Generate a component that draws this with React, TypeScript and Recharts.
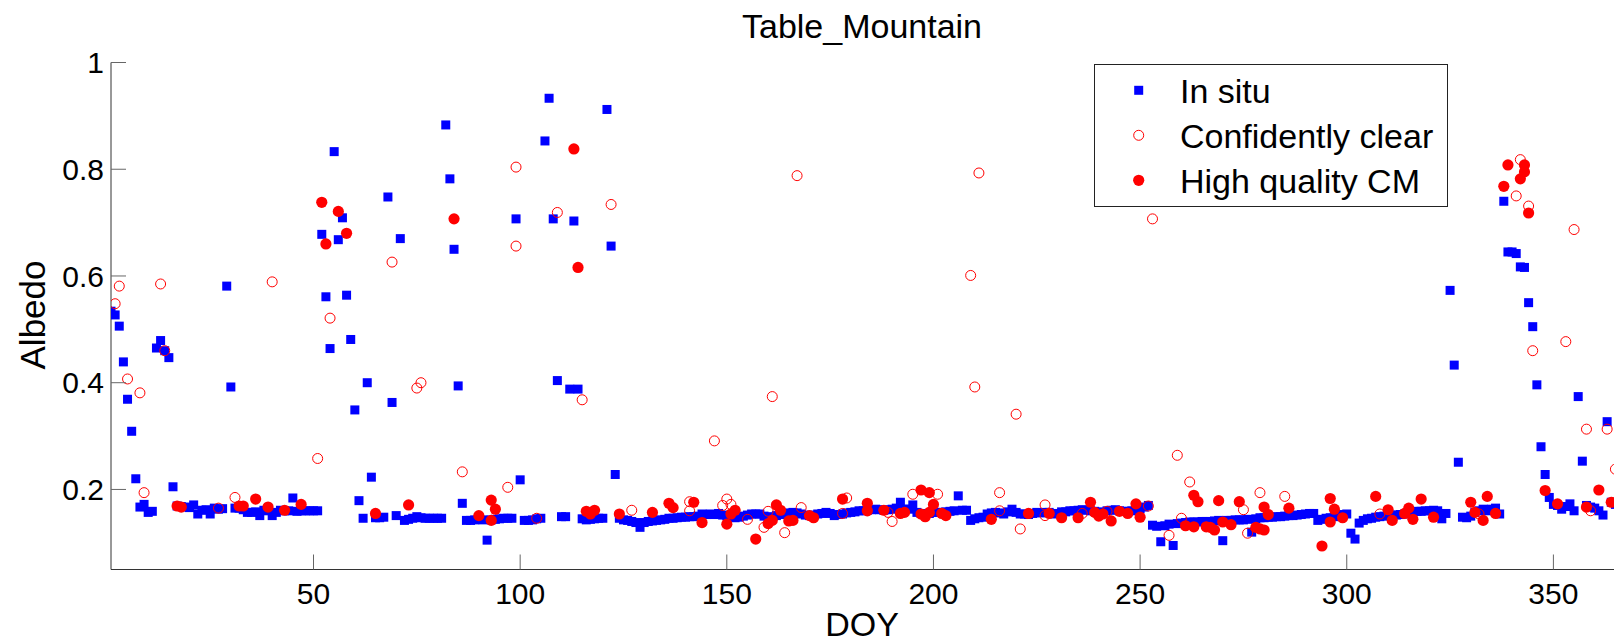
import { ScatterChart, Scatter, XAxis, YAxis } from 'recharts';

const FONT = '"Liberation Sans", Arial, Helvetica, sans-serif';

// in situ albedo, one value per DOY (1..365)
const inSituAlbedo: (number | null)[] = [
  0.534, 0.527, 0.506, 0.439, 0.369, 0.309, 0.22, 0.167, 0.172, 0.157,
  0.159, 0.465, 0.479, 0.46, 0.447, 0.205, 0.169, 0.168, 0.167, 0.166,
  0.171, 0.154, 0.161, 0.162, 0.154, 0.165, 0.163, 0.164, 0.581, 0.392,
  0.165, 0.165, 0.162, 0.157, 0.157, 0.158, 0.151, 0.161, 0.16, 0.151,
  0.157, 0.161, 0.16, 0.16, 0.184, 0.159, 0.16, 0.16, 0.16, 0.16,
  0.16, 0.678, 0.561, 0.464, 0.833, 0.668, 0.709, 0.564, 0.481, 0.349,
  0.179, 0.146, 0.4, 0.223, 0.147, 0.147, 0.148, 0.748, 0.363, 0.151,
  0.67, 0.142, 0.144, 0.146, 0.149, 0.147, 0.146, 0.146, 0.146, 0.146,
  0.146, 0.883, 0.782, 0.65, 0.394, 0.174, 0.142, 0.142, 0.143, 0.144,
  0.143, 0.105, 0.143, 0.144, 0.145, 0.146, 0.146, 0.146, 0.707, 0.218,
  0.142, 0.142, 0.143, 0.145, 0.146, 0.853, 0.933, 0.707, 0.404, 0.149,
  0.149, 0.388, 0.703, 0.388, 0.145, 0.143, 0.144, 0.145, 0.146, 0.146,
  0.912, 0.656, 0.228, 0.146, 0.143, 0.142, 0.14, 0.138, 0.129, 0.138,
  0.14, 0.141, 0.142, 0.143, 0.144, 0.146, 0.146, 0.147, 0.148, 0.148,
  0.149, 0.149, 0.15, 0.154, 0.153, 0.154, 0.153, 0.155, 0.152, 0.151,
  0.149, 0.147, 0.148, 0.15, 0.152, 0.154, 0.154, 0.154, 0.15, 0.147,
  0.149, 0.151, 0.153, 0.154, 0.156, 0.157, 0.156, 0.154, 0.152, 0.151,
  0.152, 0.154, 0.155, 0.157, 0.155, 0.151, 0.153, 0.154, 0.156, 0.157,
  0.158, 0.16, 0.16, 0.161, 0.162, 0.163, 0.162, 0.161, 0.162, 0.163,
  0.165, 0.176, 0.163, 0.163, 0.171, 0.157, 0.155, 0.154, 0.155, 0.157,
  0.157, 0.157, 0.158, 0.159, 0.16, 0.188, 0.161, 0.161, 0.142, 0.145,
  0.147, 0.148, 0.154, 0.156, 0.157, 0.156, 0.154, 0.158, 0.163, 0.157,
  0.154, 0.154, 0.153, 0.155, 0.157, 0.156, 0.157, 0.157, 0.154, 0.155,
  0.158, 0.158, 0.16, 0.16, 0.161, 0.162, 0.161, 0.16, 0.159, 0.156,
  0.158, 0.16, 0.161, 0.162, 0.16, 0.159, 0.159, 0.16, 0.162, 0.164,
  0.167, 0.17, 0.133, 0.131, 0.102, 0.132, 0.135, 0.095, 0.136, 0.137,
  0.138, 0.139, 0.139, 0.139, 0.14, 0.14, 0.14, 0.141, 0.142, 0.104,
  0.142, 0.142, 0.143, 0.143, 0.143, 0.144, 0.12, 0.145, 0.147, 0.147,
  0.148, 0.148, 0.149, 0.149, 0.15, 0.151, 0.151, 0.152, 0.153, 0.154,
  0.155, 0.155, 0.142, 0.144, 0.146, 0.147, 0.149, 0.151, 0.153, 0.154,
  0.118, 0.107, 0.137, 0.142, 0.145, 0.146, 0.148, 0.149, 0.15, 0.151,
  0.152, 0.152, 0.153, 0.154, 0.156, 0.158, 0.159, 0.159, 0.16, 0.16,
  0.161, 0.16, 0.145, 0.155, 0.573, 0.433, 0.251, 0.148, 0.147, 0.15,
  0.157, 0.16, 0.163, 0.16, 0.163, 0.165, 0.154, 0.74, 0.645, 0.645,
  0.642, 0.617, 0.616, 0.55, 0.505, 0.396, 0.28, 0.228, 0.185, 0.172,
  0.17, 0.163, 0.168, 0.173, 0.16, 0.374, 0.253, 0.17, 0.167, 0.165,
  0.16, 0.152, 0.327, 0.176, 0.172,
];

// confidently clear retrievals
const clearDoy = [
  2, 3, 5, 8, 9, 13, 14, 27, 31, 40, 51, 54, 69, 75, 76, 86, 97, 99, 99, 104,
  109, 115, 122, 127, 141, 141, 147, 149, 150, 151, 155, 159, 160, 161, 164, 167, 168, 178, 179, 189,
  190, 195, 201, 209, 210, 211, 216, 216, 220, 221, 227, 227, 236, 242, 252, 253, 257, 259, 260, 262,
  275, 276, 279, 285, 308, 332, 341, 342, 344, 345, 353, 355, 358, 359, 363, 365,
];
const clearAlbedo = [
  0.548, 0.581, 0.407, 0.381, 0.194, 0.585, 0.46, 0.165, 0.185, 0.589, 0.258, 0.521, 0.626, 0.39, 0.4, 0.233, 0.204, 0.804, 0.656, 0.146,
  0.719, 0.368, 0.734, 0.161, 0.177, 0.16, 0.291, 0.17, 0.182, 0.172, 0.144, 0.129, 0.159, 0.374, 0.119, 0.788, 0.166, 0.155, 0.184, 0.157,
  0.14, 0.191, 0.191, 0.601, 0.392, 0.793, 0.194, 0.16, 0.341, 0.126, 0.171, 0.151, 0.155, 0.159, 0.169, 0.707, 0.114, 0.264, 0.146, 0.214,
  0.162, 0.118, 0.194, 0.187, 0.154, 0.154, 0.75, 0.818, 0.731, 0.46, 0.477, 0.687, 0.313, 0.16, 0.313, 0.238,
];

// high quality cloud mask retrievals
const cmDoy = [
  17, 18, 32, 33, 36, 39, 43, 47, 52, 53, 56, 58, 65, 73, 84, 90, 93, 93, 94, 113,
  114, 116, 117, 118, 124, 132, 136, 137, 142, 144, 150, 151, 152, 157, 160, 161, 162, 163, 165, 166,
  170, 171, 178, 184, 184, 188, 192, 193, 197, 197, 198, 199, 199, 200, 202, 203, 214, 223, 228, 231,
  235, 238, 239, 240, 241, 243, 245, 247, 249, 250, 261, 263, 263, 264, 266, 267, 268, 269, 270, 272,
  274, 278, 279, 280, 280, 281, 286, 294, 296, 296, 297, 299, 307, 310, 311, 314, 315, 316, 318, 321,
  330, 331, 333, 334, 336, 338, 339, 342, 343, 343, 344, 348, 351, 358, 361, 364,
];
const cmAlbedo = [
  0.169, 0.167, 0.169, 0.169, 0.182, 0.167, 0.161, 0.172, 0.738, 0.66, 0.721, 0.68, 0.155, 0.171, 0.707, 0.151, 0.18, 0.142, 0.163, 0.838,
  0.616, 0.159, 0.154, 0.161, 0.154, 0.157, 0.174, 0.166, 0.176, 0.138, 0.135, 0.154, 0.161, 0.107, 0.136, 0.142, 0.171, 0.161, 0.141, 0.142,
  0.151, 0.147, 0.182, 0.174, 0.16, 0.161, 0.155, 0.157, 0.199, 0.154, 0.149, 0.194, 0.157, 0.172, 0.155, 0.151, 0.144, 0.155, 0.155, 0.147,
  0.147, 0.176, 0.157, 0.15, 0.154, 0.141, 0.159, 0.155, 0.173, 0.148, 0.132, 0.13, 0.189, 0.177, 0.13, 0.129, 0.124, 0.179, 0.139, 0.134,
  0.177, 0.129, 0.126, 0.124, 0.167, 0.153, 0.165, 0.094, 0.183, 0.139, 0.163, 0.147, 0.187, 0.162, 0.142, 0.155, 0.165, 0.144, 0.182, 0.148,
  0.176, 0.157, 0.142, 0.187, 0.155, 0.768, 0.808, 0.782, 0.808, 0.795, 0.718, 0.198, 0.173, 0.167, 0.199, 0.176,
];

const doyTicks = [50, 100, 150, 200, 250, 300, 350];
const albedoTicks = [0.2, 0.4, 0.6, 0.8, 1];

const inSitu = inSituAlbedo
  .map((albedo, i) => ({ doy: i + 1, albedo }))
  .filter((p) => p.albedo !== null);
const clear = clearDoy.map((doy, i) => ({ doy, albedo: clearAlbedo[i] }));
const highQuality = cmDoy.map((doy, i) => ({ doy, albedo: cmAlbedo[i] }));

const BLUE = '#0000ff';
const RED = '#ff0000';
const AXIS = '#333';
const TICK = '#666';

const Square = ({ cx, cy }: any) => <rect x={cx - 4.5} y={cy - 4.5} width={9} height={9} fill={BLUE} />;
const OpenCircle = ({ cx, cy }: any) => (
  <circle cx={cx} cy={cy} r={5} fill="none" stroke={RED} strokeWidth={1} />
);
const Dot = ({ cx, cy }: any) => <circle cx={cx} cy={cy} r={5.6} fill={RED} />;

// MATLAB style: ticks point inward
const BottomTick = ({ x, y, payload }: any) => (
  <g>
    <line x1={x} x2={x} y1={y} y2={y - 15} stroke={TICK} />
    <text x={x} y={y + 34} textAnchor="middle" fontSize={30} fontFamily={FONT} fill="#000">
      {payload.value}
    </text>
  </g>
);
const TopTick = ({ x, y }: any) => <line x1={x} x2={x} y1={y} y2={y + 15} stroke={TICK} />;
const LeftTick = ({ x, y, payload }: any) => (
  <g>
    <line x1={x} x2={x + 15} y1={y} y2={y} stroke={TICK} />
    <text x={x - 7} y={y + 10.7} textAnchor="end" fontSize={30} fontFamily={FONT} fill="#000">
      {payload.value}
    </text>
  </g>
);
const RightTick = ({ x, y }: any) => <line x1={x} x2={x - 15} y1={y} y2={y} stroke={TICK} />;

const legendItems = [
  { label: 'In situ', marker: 'square' },
  { label: 'Confidently clear', marker: 'open' },
  { label: 'High quality CM', marker: 'dot' },
];

export default function App() {
  return (
    <div
      style={{
        position: 'absolute',
        left: 0,
        top: 0,
        width: 1614,
        height: 644,
        overflow: 'hidden',
        background: '#fff',
      }}
    >
      <ScatterChart width={1630} height={644} margin={{ top: 62.5, right: 14.6, bottom: 0, left: 0 }}>
        <XAxis
          xAxisId="bottom"
          dataKey="doy"
          type="number"
          domain={[1, 365]}
          ticks={doyTicks}
          allowDataOverflow
          height={74.5}
          stroke={AXIS}
          tickLine={false}
          tickSize={0}
          tickMargin={0}
          tick={<BottomTick />}
        />
        <XAxis
          xAxisId="top"
          orientation="top"
          dataKey="doy"
          type="number"
          domain={[1, 365]}
          ticks={doyTicks}
          allowDataOverflow
          height={0}
          stroke={AXIS}
          tickLine={false}
          tickSize={0}
          tickMargin={0}
          tick={<TopTick />}
        />
        <YAxis
          yAxisId="left"
          dataKey="albedo"
          type="number"
          domain={[0.05, 1]}
          ticks={albedoTicks}
          allowDataOverflow
          width={111}
          stroke={AXIS}
          tickLine={false}
          tickSize={0}
          tickMargin={0}
          tick={<LeftTick />}
        />
        <YAxis
          yAxisId="right"
          orientation="right"
          dataKey="albedo"
          type="number"
          domain={[0.05, 1]}
          ticks={albedoTicks}
          allowDataOverflow
          width={0}
          stroke={AXIS}
          tickLine={false}
          tickSize={0}
          tickMargin={0}
          tick={<RightTick />}
        />
        <Scatter
          name="In situ"
          data={inSitu}
          xAxisId="bottom"
          yAxisId="left"
          shape={<Square />}
          isAnimationActive={false}
        />
        <Scatter
          name="Confidently clear"
          data={clear}
          xAxisId="bottom"
          yAxisId="left"
          shape={<OpenCircle />}
          isAnimationActive={false}
        />
        <Scatter
          name="High quality CM"
          data={highQuality}
          xAxisId="bottom"
          yAxisId="left"
          shape={<Dot />}
          isAnimationActive={false}
        />
      </ScatterChart>

      <svg
        width={1614}
        height={644}
        style={{ position: 'absolute', left: 0, top: 0, pointerEvents: 'none' }}
        fontFamily={FONT}
      >
        <text x={862} y={38} textAnchor="middle" fontSize={34} fill="#000">
          Table_Mountain
        </text>
        <text x={862} y={636} textAnchor="middle" fontSize={34} fill="#000">
          DOY
        </text>
        <text
          x={0}
          y={0}
          transform="translate(45 315) rotate(-90)"
          textAnchor="middle"
          fontSize={35}
          fill="#000"
        >
          Albedo
        </text>

        <rect x={1094.5} y={64.5} width={353} height={142} fill="#fff" stroke="#222" />
        {legendItems.map((item, i) => {
          const cy = 90.3 + i * 45;
          return (
            <g key={item.label}>
              {item.marker === 'square' && <Square cx={1138.7} cy={cy} />}
              {item.marker === 'open' && <OpenCircle cx={1138.7} cy={cy} />}
              {item.marker === 'dot' && <Dot cx={1138.7} cy={cy} />}
              <text x={1180} y={cy + 12.2} fontSize={34} fill="#000">
                {item.label}
              </text>
            </g>
          );
        })}
      </svg>
    </div>
  );
}
